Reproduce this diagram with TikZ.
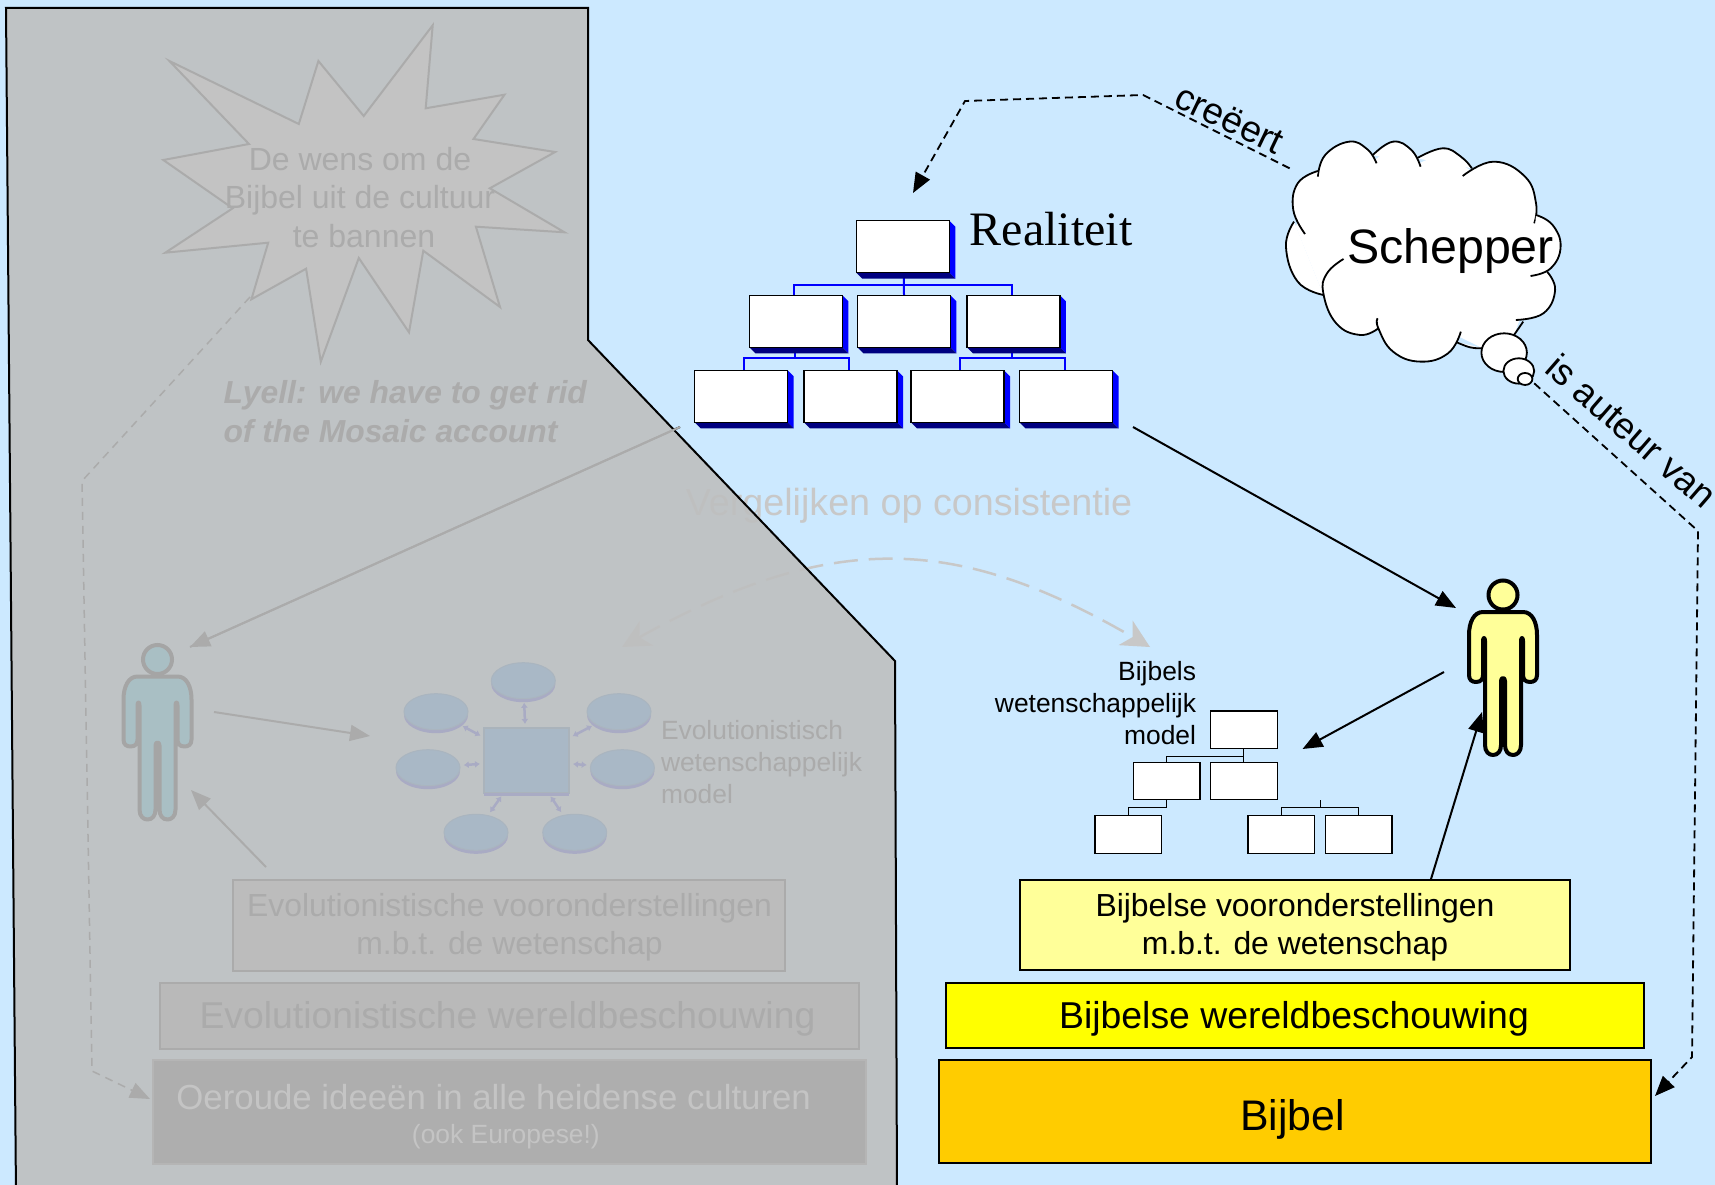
\documentclass[tikz,border=0pt]{standalone}
\usepackage{fontspec}
\setmainfont{Liberation Sans}
\newfontfamily\serifreal{Liberation Serif}
\usetikzlibrary{arrows.meta,shapes.geometric,calc}
\newcommand\fsz[1]{\fontsize{#1}{#1}\selectfont}
\definecolor{bgblue}{HTML}{CCE9FF}
\definecolor{panelfill}{HTML}{BEBFBF}
\definecolor{ghost}{HTML}{ABABAB}
\definecolor{ghostedge}{HTML}{A5A5A5}
\definecolor{ghostlight}{HTML}{C8C8C8}
\definecolor{starfill}{HTML}{C3C3C3}
\definecolor{personblue}{HTML}{A9BFC4}
\definecolor{paleyellow}{HTML}{FFFF99}
\definecolor{pureyellow}{HTML}{FFFF00}
\definecolor{pureblue}{HTML}{0000FF}
\definecolor{amber}{HTML}{FFCC00}
\definecolor{blobfill}{HTML}{A9B8C6}
\definecolor{blobshade}{HTML}{A9ABC4}
\definecolor{oerfill}{HTML}{AEAEAE}
\definecolor{oerline}{HTML}{B5B5B5}
\definecolor{oertext}{HTML}{C4C4C4}
\definecolor{evoa}{HTML}{BCBCBC}
\definecolor{evob}{HTML}{B9B9B9}
\definecolor{navybox}{HTML}{000080}
\tikzset{
  txt/.style={inner sep=0pt,outer sep=0pt,anchor=base},
  tip/.style={-{Triangle[length=20pt,width=16pt]}},
  blackarrow/.style={draw=black,line width=2pt,tip},
  ghostarrow/.style={draw=ghost,line width=2pt,tip},
  blackdash/.style={draw=black,line width=1.8pt,dash pattern=on 8pt off 5pt,tip},
  ghostdash/.style={draw=ghost,line width=1.5pt,dash pattern=on 8pt off 6pt,tip},
  rect/.style={rectangle,inner sep=0pt,outer sep=0pt,anchor=north west},
  orgcard/.style={rect,draw=black,line width=1.5pt,fill=white,minimum width=93pt,minimum height=52pt},
  smallcard/.style={rect,draw=black,line width=1.3pt,fill=white,minimum width=66.5pt,minimum height=37.5pt},
  orglink/.style={draw=pureblue,line width=2pt},
  smalllink/.style={draw=black,line width=1pt},
  blob/.style={ellipse,draw=blobfill!75!ghost,line width=1pt,fill=blobfill,minimum width=64pt,minimum height=36pt,inner sep=0pt,outer sep=0pt},
  bloblink/.style={draw=blobshade,line width=2.5pt,{Latex[length=5pt,width=7pt]}-{Latex[length=5pt,width=7pt]},shorten >=4pt,shorten <=4pt},
  cloudline/.style={draw=black,line width=1.8pt,fill=white},
}
\newcommand\orgbox[3]{%
  \fill[pureblue] (#2+93,#3) -- ++(6,6) -- ++(0,52) -- ++(-6,-6) -- cycle;
  \fill[navybox] (#2,#3+52) -- ++(93,0) -- ++(6,6) -- ++(-93,0) -- cycle;
  \node[orgcard] (#1) at (#2,#3) {};}
\newcommand\blobnode[3]{%
  \fill[blobshade] (#2,#3+3.5) ellipse [x radius=32,y radius=18];
  \node[blob] (#1) at (#2,#3) {};}
\newcommand\personfig[5]{%
  \begin{scope}[shift={(#2,#3)}]
    \draw[line width=4pt,draw=#5,fill=#4,line join=round]
      (-20,17) -- (20,17) .. controls (29,17) and (34,27) .. (34,40) -- (34,80)
      .. controls (34,85) and (31,87) .. (27,87) .. controls (22,87) and (20,84) .. (20,80)
      -- (20,46) .. controls (20,42) and (18,42) .. (18,46) -- (18,150)
      .. controls (18,157) and (14,160) .. (10,160) .. controls (5,160) and (2,156) .. (2,150)
      -- (2,86) .. controls (2,82) and (-2,82) .. (-2,86) -- (-2,150)
      .. controls (-2,156) and (-5,160) .. (-10,160) .. controls (-14,160) and (-18,157) .. (-18,150)
      -- (-18,46) .. controls (-18,42) and (-20,42) .. (-20,46) -- (-20,80)
      .. controls (-20,84) and (-22,87) .. (-27,87) .. controls (-31,87) and (-34,85) .. (-34,80)
      -- (-34,40) .. controls (-34,27) and (-29,17) .. (-20,17) -- cycle;
    \node[circle,draw=#5,fill=#4,line width=4pt,minimum size=29pt,inner sep=0pt,outer sep=2pt] (#1) at (0,0) {};
  \end{scope}}
\begin{document}
\begin{tikzpicture}[x=1pt,y=-1pt]
\useasboundingbox (0,0) rectangle (1715,1185);
\fill[bgblue] (0,0) rectangle (1715,1185);

% coordinates for free ends
\coordinate (realL) at (680,427);
\coordinate (realR) at (1133,427);
\coordinate (leftP) at (190,647);
\coordinate (rightPtop) at (1456,608);
\coordinate (curveL) at (622,647);
\coordinate (curveR) at (1150,647);

% items lying beneath the panel
\node[txt,font=\fsz{37.7},text=ghostlight] (verg) at (909,515) {Vergelijken op consistentie};
\draw[draw=ghostlight,line width=2.5pt,dash pattern=on 24pt off 11pt,
  {Stealth[length=28pt,width=28pt,inset=8pt]}-{Stealth[length=28pt,width=28pt,inset=8pt]}]
  (curveL) .. controls (840,525) and (965,540) .. (curveR);
\draw[draw=black,line width=2pt] (realL) -- (leftP);

% grey panel
\draw[draw=black,line width=2pt,fill=panelfill,fill opacity=0.9]
  (6,8) -- (588,8) -- (588,340) -- (895,661) -- (897,1195) -- (16,1195) -- cycle;

% left side, muted
\draw[ghostarrow] (realL) -- (leftP);
\filldraw[draw=ghost,line width=2pt,fill=starfill]
  (169.4,61) -- (298.8,124) -- (318.4,61) -- (363.7,116) -- (432.7,25.3) -- (425.7,108.3)
  -- (504.5,94.7) -- (473.5,139) -- (555.1,152) -- (489.8,188.3) -- (564.5,232.3)
  -- (475.9,226.7) -- (500,307) -- (423.3,250.7) -- (409,332.3) -- (358.8,258)
  -- (320.8,361.7) -- (306.1,268.7) -- (251.4,299.3) -- (268.2,242.7) -- (165.3,252.7)
  -- (232.7,208.3) -- (163.3,160) -- (249,144) -- cycle;
\coordinate (starfoot) at (250,297);
\node[txt,font=\fontsize{32}{38.7}\selectfont,text=ghost,align=center,anchor=center] (wens) at (360,197.5)
  {De wens om de\\Bijbel uit de cultuur\\\hspace*{8pt}te bannen};
\node[txt,font=\fontsize{31.8}{38.7}\selectfont\bfseries\itshape,text=ghost,align=left,anchor=west] (lyell) at (223.5,411.5)
  {Lyell: we have to get rid\\of the Mosaic account};

\personfig{ghostperson}{157.5}{659.5}{personblue}{ghostedge}

\node[rect,draw=ghost!40!blobfill,line width=1.5pt,fill=blobfill,minimum width=85pt,minimum height=65pt] (hub) at (484,728) {};
\fill[blobshade] (484,793) rectangle (569,796);
\blobnode{e1}{523.3}{680.7}
\blobnode{e2}{436}{711.7}
\blobnode{e3}{619}{711.7}
\blobnode{e4}{428}{767.7}
\blobnode{e5}{622.4}{767.7}
\blobnode{e6}{476}{832.3}
\blobnode{e7}{574.7}{832.3}
\foreach \e in {e1,e2,e3,e4,e5,e6,e7} {\draw[bloblink] (hub) -- (\e);}
\node[txt,font=\fontsize{26.4}{32}\selectfont,text=ghost,align=left,anchor=west] (evomodel) at (661,762)
  {Evolutionistisch\\wetenschappelijk\\model};

\node[rect,draw=ghost,line width=2pt,fill=evoa,minimum width=551.7pt,minimum height=91pt] (evoass) at (233,880) {};
\node[txt,font=\fontsize{31.9}{37.6}\selectfont,text=ghost,align=center,anchor=center] (evoasst) at (509.5,927.5)
  {Evolutionistische vooronderstellingen\\m.b.t. de wetenschap};
\node[rect,draw=ghost,line width=2pt,fill=evob,minimum width=699pt,minimum height=66.6pt] (evoworld) at (160,982.7) {};
\node[txt,font=\fsz{37.3},text=ghost] (evoworldt) at (507.5,1028) {Evolutionistische wereldbeschouwing};
\node[rect,draw=oerline,line width=2pt,fill=oerfill,minimum width=712.4pt,minimum height=104pt] (oer) at (153.3,1060) {};
\node[txt,font=\fsz{34.8},text=oertext] (oert) at (493.7,1109) {Oeroude ideeën in alle heidense culturen};
\node[txt,font=\fsz{26.4},text=oertext] (oert2) at (505.9,1143) {(ook Europese!)};

\coordinate (pL1) at (214,712);
\coordinate (pL2) at (370,736);
\coordinate (pL3) at (266,867);
\coordinate (pL4) at (191,790);
\draw[ghostarrow] (pL1) -- (pL2);
\draw[ghostarrow] (pL3) -- (pL4);
\coordinate (gd1) at (82,481);
\coordinate (gd2) at (92,1071);
\coordinate (gd3) at (150,1099);
\draw[ghostdash] (starfoot) -- (gd1) -- (gd2) -- (gd3);

% Realiteit organisation chart
\node[txt,font=\serifreal\fsz{48},anchor=base] (realt) at (1051,245) {Realiteit};
\node[rect,minimum width=93pt,minimum height=52pt] (ta) at (856.3,220.7) {};
\node[rect,minimum width=93pt,minimum height=52pt] (ra) at (749.3,295.3) {};
\node[rect,minimum width=93pt,minimum height=52pt] (rb) at (857.3,295.3) {};
\node[rect,minimum width=93pt,minimum height=52pt] (rc) at (966.8,295.3) {};
\node[rect,minimum width=93pt,minimum height=52pt] (sa) at (694.7,370.3) {};
\node[rect,minimum width=93pt,minimum height=52pt] (sb) at (804,370.3) {};
\node[rect,minimum width=93pt,minimum height=52pt] (sc) at (911,370.3) {};
\node[rect,minimum width=93pt,minimum height=52pt] (sd) at (1019.5,370.3) {};
\draw[orglink] ([xshift=1pt]ta.south) -- ++(0,12) -| ([xshift=-1.5pt]ra.north);
\draw[orglink] ([xshift=1pt]ta.south) -- ([xshift=0.2pt]rb.north);
\draw[orglink] ([xshift=1pt]ta.south) -- ++(0,12) -| ([xshift=-1.3pt]rc.north);
\draw[orglink] ([xshift=-0.5pt]ra.south) -- ++(0,11) -| ([xshift=2.3pt]sa.north);
\draw[orglink] ([xshift=-0.5pt]ra.south) -- ++(0,11) -| ([xshift=-2pt]sb.north);
\draw[orglink] ([xshift=-1.3pt]rc.south) -- ++(0,11) -| ([xshift=2.2pt]sc.north);
\draw[orglink] ([xshift=-1.3pt]rc.south) -- ++(0,11) -| ([xshift=-1.3pt]sd.north);
\orgbox{ta2}{856.3}{220.7}
\orgbox{ra2}{749.3}{295.3}
\orgbox{rb2}{857.3}{295.3}
\orgbox{rc2}{966.8}{295.3}
\orgbox{sa2}{694.7}{370.3}
\orgbox{sb2}{804}{370.3}
\orgbox{sc2}{911}{370.3}
\orgbox{sd2}{1019.5}{370.3}

% cloud, in the coordinates of a measured crop
\begin{scope}[shift={(1140,60)},x=0.3667pt,y=-0.3333pt]
  \fill[white] (485,340) -- (560,270) -- (640,300) -- (690,260) -- (760,310) -- (825,280) -- (900,330)
    -- (980,330) -- (1075,470) -- (1110,640)
    -- (1035,780) -- (1020,825) -- (935,865) -- (870,830) -- (650,790) -- (500,705) -- (425,500) -- cycle;
  \draw[cloudline] plot[smooth,tension=0.75] coordinates {(485,350) (505,285) (570,245) (620,268) (645,310)};
  \draw[cloudline] plot[smooth,tension=0.75] coordinates {(635,285) (690,245) (740,270) (765,320)};
  \draw[cloudline] plot[smooth,tension=0.75] coordinates {(755,295) (825,265) (875,290) (905,325)};
  \draw[cloudline] plot[smooth,tension=0.75] coordinates {(880,348) (965,305) (1050,350) (1080,430) (1075,490)};
  \draw[cloudline] plot[smooth,tension=0.75] coordinates {(1080,465) (1125,495) (1147,560) (1120,625) (1065,648)};
  \draw[cloudline] plot[smooth,tension=0.75] coordinates {(1110,635) (1132,690) (1100,760) (1025,780)};
  \draw[cloudline] (1045,785) -- (1020,825);
  \draw[cloudline] plot[smooth,tension=0.75] coordinates {(860,845) (900,862) (935,865)};
  \draw[cloudline] plot[smooth,tension=0.75] coordinates {(500,705) (430,665) (398,560) (420,485)};
  \draw[cloudline] plot[smooth,tension=0.75] coordinates {(450,522) (418,450) (430,370) (485,333)};
  \draw[cloudline] plot[smooth,tension=0.75] coordinates {(650,805) (600,825) (535,790) (500,700) (510,640) (555,597)};
  \draw[cloudline] plot[smooth,tension=0.75] coordinates {(875,815) (840,880) (765,905) (690,875) (650,805) (648,775)};
  \filldraw[cloudline] (993,878) ellipse [x radius=62,y radius=58];
  \filldraw[cloudline] (1033,933) ellipse [x radius=42,y radius=38];
  \filldraw[cloudline] (1050,957) ellipse [x radius=20,y radius=18];
  \coordinate (cloudA) at (408,325);
  \coordinate (cloudB) at (1075,970);
\end{scope}
\node[txt,font=\fsz{48.3}] (schepper) at (1450.5,263) {Schepper};

% dashed connectors from the cloud
\coordinate (da1) at (1143,95);
\coordinate (da2) at (965,101);
\coordinate (da3) at (913,193);
\draw[blackdash] (cloudA) -- (da1) -- (da2) -- (da3);
\node[txt,font=\fsz{37},rotate=-25.5] (creeert) at (1224,130) {creëert};
\coordinate (db1) at (1698,531);
\coordinate (db2) at (1692,1057);
\coordinate (db3) at (1655,1096);
\draw[blackdash] (cloudB) -- (db1) -- (db2) -- (db3);
\node[txt,font=\fsz{37},rotate=-41] (auteur) at (1623,441) {is auteur van};

% Biblical model
\node[txt,font=\fontsize{26.4}{32}\selectfont,align=right,anchor=east] (bibmodel) at (1196,703) {Bijbels\\wetenschappelijk\\model};
\node[smallcard] (m1) at (1210.7,711) {};
\node[smallcard] (m2) at (1133.4,762.3) {};
\node[smallcard] (m3) at (1210.7,762.3) {};
\node[smallcard] (m4) at (1095,815.7) {};
\node[smallcard] (m5) at (1248,815.7) {};
\node[smallcard] (m6) at (1325.5,815.7) {};
\coordinate (stub) at (1320,800);
\draw[smalllink] (m1.south) -- ++(0,7.5) -| (m2.north);
\draw[smalllink] (m1.south) -- (m3.north);
\draw[smalllink] (m2.south) -- ++(0,7.5) -| (m4.north);
\draw[smalllink] (stub) -- ++(0,7.5) -| (m5.north);
\draw[smalllink] (stub) -- ++(0,7.5) -| (m6.north);

% right foundation
\node[rect,draw=black,line width=2pt,fill=paleyellow,minimum width=550pt,minimum height=90.3pt] (bibass) at (1020,880) {};
\node[txt,font=\fontsize{31.9}{37.6}\selectfont,align=center,anchor=center] (bibasst) at (1295,927.5)
  {Bijbelse vooronderstellingen\\m.b.t. de wetenschap};
\node[rect,draw=black,line width=2pt,fill=pureyellow,minimum width=698pt,minimum height=65.7pt] (bibworld) at (945.7,982.7) {};
\node[txt,font=\fsz{37.4}] (bibworldt) at (1294,1028) {Bijbelse wereldbeschouwing};
\node[rect,draw=black,line width=2pt,fill=amber,minimum width=711.5pt,minimum height=103pt] (bible) at (939,1060.2) {};
\node[txt,font=\fsz{42.8}] (biblet) at (1292.4,1130.7) {Bijbel};

\personfig{person}{1503}{595}{paleyellow}{black}
\coordinate (pr1) at (1444,672);
\coordinate (pr2) at (1302.5,749);
\coordinate (pr3) at (1430.7,880);
\coordinate (pr4) at (1482,712);
\draw[blackarrow] (realR) -- (rightPtop);
\draw[blackarrow] (pr1) -- (pr2);
\draw[blackarrow] (pr3) -- (pr4);
\end{tikzpicture}
\end{document}
